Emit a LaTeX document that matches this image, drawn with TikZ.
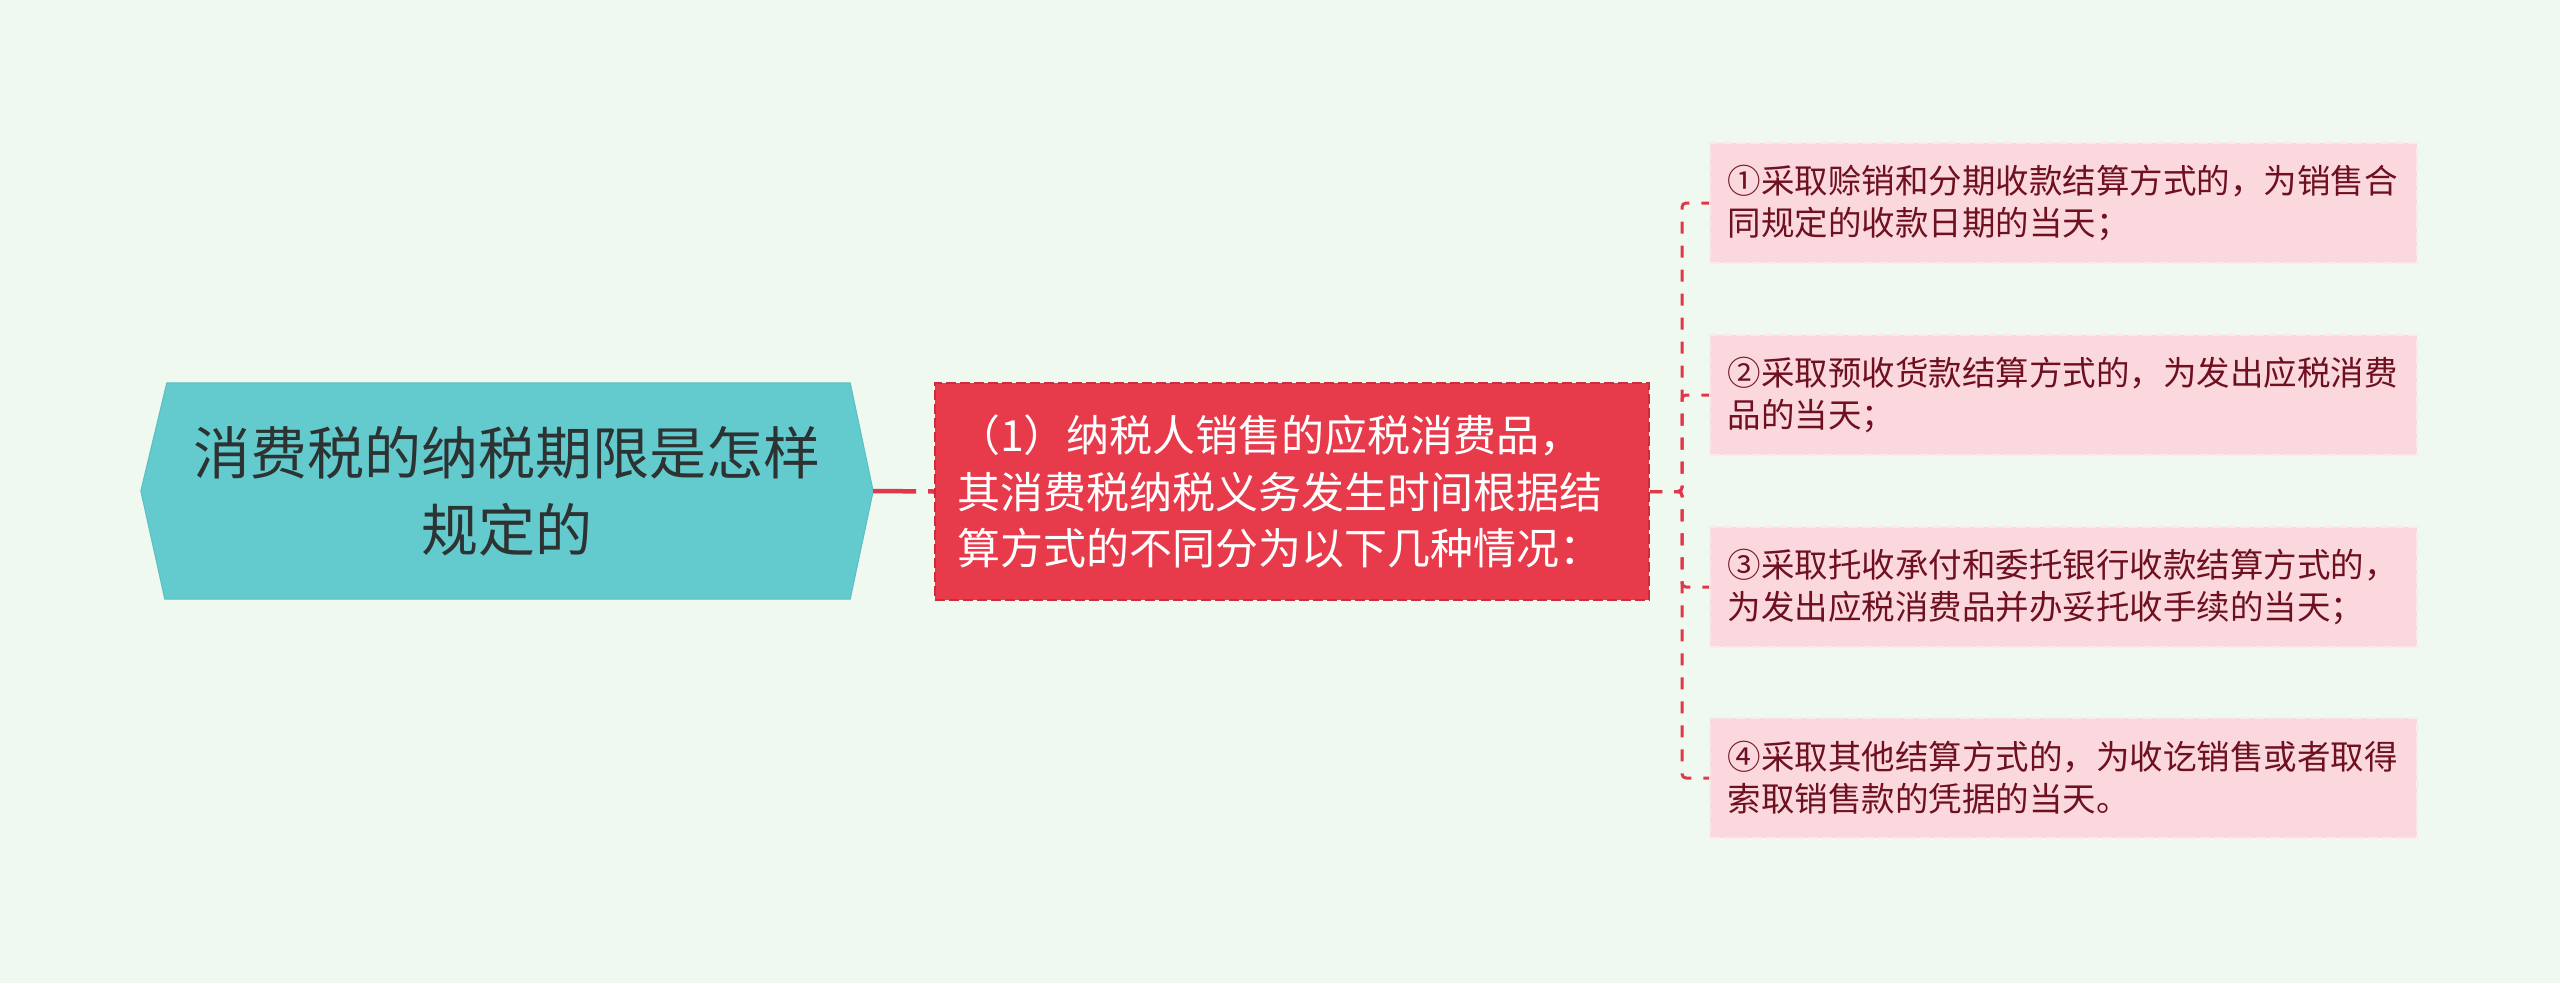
\documentclass[tikz,border=0pt]{standalone}
\usepackage{fontspec}
\newfontfamily\cjk{Noto Sans CJK SC}
\usetikzlibrary{calc,backgrounds}
\definecolor{bg}{RGB}{240,249,239}
\definecolor{rootfill}{RGB}{99,203,205}
\definecolor{rootline}{RGB}{90,192,194}
\definecolor{roottext}{RGB}{45,50,50}
\definecolor{midfill}{RGB}{231,58,74}
\definecolor{midline}{RGB}{205,44,60}
\definecolor{leaffill}{RGB}{251,216,221}
\definecolor{leafline}{RGB}{253,232,235}
\definecolor{leaftext}{RGB}{110,16,32}
\definecolor{conncol}{RGB}{224,56,74}
\begin{document}
\begin{tikzpicture}[x=1pt,y=-1pt,
  rootbox/.style={minimum width=732pt, minimum height=216pt, inner sep=0pt,
    align=center, text=roottext, font=\cjk\fontsize{57}{77}\selectfont},
  midbox/.style={draw=midline, fill=midfill, line width=2pt, dash pattern=on 10pt off 4pt,
    minimum width=714pt, minimum height=217pt, inner sep=0pt, text width=670pt,
    align=left, text=white, font=\cjk\fontsize{43}{56.5}\selectfont},
  leafbox/.style={draw=leafline, fill=leaffill, line width=2pt, dash pattern=on 10pt off 4pt,
    minimum width=707pt, minimum height=120pt, inner sep=0pt, text width=672pt,
    align=left, text=leaftext, font=\cjk\fontsize{33.5}{42}\selectfont},
  rootlink/.style={draw=conncol, line width=4.5pt, dash pattern=on 43pt off 12pt},
  leaflink/.style={draw=conncol, line width=3pt, dash pattern=on 12pt off 12pt, rounded corners=4pt}
]
\useasboundingbox (0,0) rectangle (2560,983);
\node[rootbox] (root) at (507,491) {消费税的纳税期限是怎样\\规定的};
\begin{scope}[on background layer]
  \fill[bg] (0,0) rectangle (2560,983);
  \filldraw[fill=rootfill, draw=rootline, line width=1pt]
    (root.west) -- ($(root.north west)+(26,0)$) -- ($(root.north east)+(-23,0)$)
    -- (root.east) -- ($(root.south east)+(-23,0)$) -- ($(root.south west)+(24,0)$) -- cycle;
\end{scope}
\node[midbox] (mid) at (1292,491.5) {（1）纳税人销售的应税消费品，\\其消费税纳税义务发生时间根据结\\算方式的不同分为以下几种情况：};
\node[leafbox] (l1) at (2063.5,203) {①采取赊销和分期收款结算方式的，为销售合\\同规定的收款日期的当天；};
\node[leafbox] (l2) at (2063.5,395) {②采取预收货款结算方式的，为发出应税消费\\品的当天；};
\node[leafbox] (l3) at (2063.5,587) {③采取托收承付和委托银行收款结算方式的，\\为发出应税消费品并办妥托收手续的当天；};
\node[leafbox] (l4) at (2063.5,778) {④采取其他结算方式的，为收讫销售或者取得\\索取销售款的凭据的当天。};
\draw[rootlink] (root.east) -- (mid.west);
\foreach \l in {l1,l2,l3,l4}
  \draw[leaflink] (mid.east) -- ++(32,0) |- (\l.west);
\end{tikzpicture}
\end{document}
